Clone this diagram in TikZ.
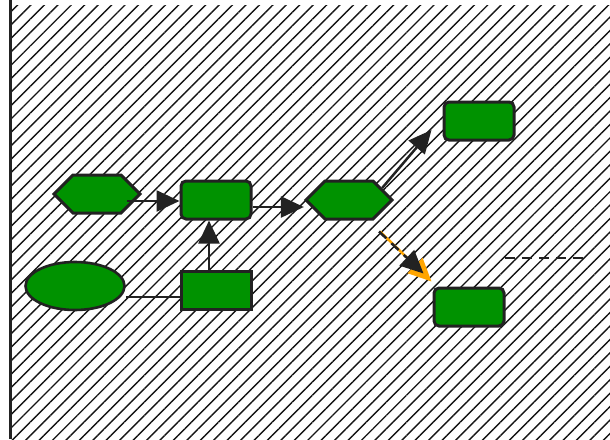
\documentclass[tikz,border=0pt]{standalone}
\usepackage{tikz}
\usetikzlibrary{patterns}
\usetikzlibrary{patterns.meta}
\usetikzlibrary{arrows.meta}
\usetikzlibrary{shapes}
\usetikzlibrary{shapes.symbols}
\usetikzlibrary{positioning}
\definecolor{boxgreen}{RGB}{0,146,0}
\definecolor{edgegray}{RGB}{34,34,34}
\definecolor{hatchgray}{RGB}{20,20,20}
\definecolor{warnorange}{RGB}{255,165,0}
\tikzset{
  >={Triangle[length=23pt,width=21pt]},
  line/.style={draw=edgegray, line width=2.5pt},
  box/.style={draw=edgegray, line width=3pt, fill=boxgreen, rectangle,
              minimum width=70pt, minimum height=38pt, inner sep=0pt}
}

\begin{document}
\begin{tikzpicture}[
    x=1pt, y=-1pt,
    roundbox/.style={box, rounded corners=5pt},
    hexbox/.style={draw=edgegray, line width=3pt, fill=boxgreen,
                   signal, signal to=west and east, signal pointer angle=90,
                   minimum width=86pt, minimum height=38pt, inner sep=0pt},
    blob/.style={draw=edgegray, line width=2.6pt, fill=boxgreen, ellipse,
                 minimum width=99pt, minimum height=48pt, inner sep=0pt},
    arrow/.style={->, line},
    dashed_arrow/.style={->, line, dash pattern=on 10pt off 7pt}
]
\useasboundingbox (0,0) rectangle (610,439);

% Background
\fill[pattern={Lines[angle=45,distance=9.5pt,line width=1.4pt]}, pattern color=hatchgray]
  (10,5) rectangle (610,439);
\draw[edgegray, line width=3pt] (10,0) -- (10,439);

% Components
\node[hexbox] (hexl) at (97,194) {};
\node[roundbox] (boxa) at (216,200) {};
\node[blob] (ell) at (75,286) {};
\node[box] (boxb) at (216,290) {};
\node[hexbox] (hexr) at (349,200) {};
\node[roundbox] (boxc) at (479,121) {};
\node[roundbox] (boxd) at (469,307) {};
\coordinate (dashl) at (505,258);
\coordinate (dashr) at (590,258);

% Arrows
\draw[arrow] ([xshift=-15pt,yshift=-7pt]hexl.east) -- ([yshift=-1pt]boxa.west);
\draw[line] ([yshift=-11pt]ell.east) -- ([yshift=-7pt]boxb.west);
\draw[arrow] ([xshift=-7pt]boxb.north) -- ([xshift=-7pt]boxa.south);
\draw[arrow] ([yshift=-7pt]boxa.east) -- ([yshift=-7pt]hexr.west);
\draw[arrow] ([xshift=-12pt,yshift=12pt]hexr.east) -- ([xshift=-11pt,yshift=-9pt]boxc.west);

% Dashed ones
\draw[->, draw=warnorange, line width=2.5pt] ([xshift=31pt,yshift=-11pt]hexr.south)
  -- ([xshift=-1pt,yshift=5pt]boxd.north west);
\draw[dashed_arrow] ([xshift=30pt,yshift=-11pt]hexr.south)
  -- ([xshift=-9pt,yshift=13pt]boxd.north west);
\draw[line, dash pattern=on 10pt off 7pt] (dashl) -- (dashr);

\end{tikzpicture}
\end{document}
